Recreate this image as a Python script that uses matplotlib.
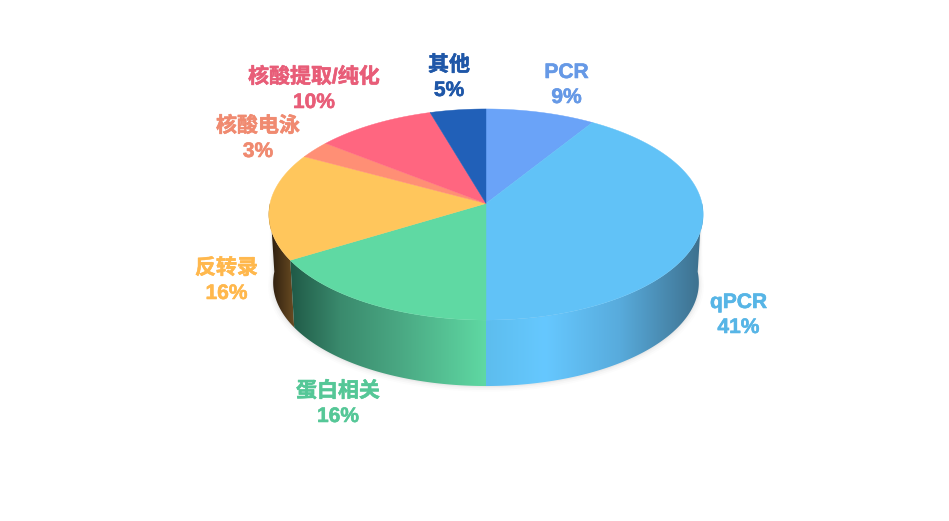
import numpy as np
import matplotlib
matplotlib.use("Agg")
import matplotlib.pyplot as plt
import matplotlib.patheffects as pe
from matplotlib.colors import LinearSegmentedColormap
from matplotlib.patches import Polygon

categories = ["PCR", "qPCR", "蛋白相关", "反转录", "核酸电泳", "核酸提取/纯化", "其他"]
values = [9.0, 41.0, 16.4, 16.4, 2.7, 9.9, 4.6]
top_colors = ["#6aa3f8", "#61c2f7", "#5fd9a3", "#ffc65c", "#ff8f75", "#ff6680", "#2160b8"]
label_colors = ["#6699e6", "#57b5e6", "#55c797", "#ffb84d", "#f08a70", "#e85d78", "#1f57a8"]
label_anchor_x = [566.5, 738.5, 338, 226.5, 258, 314, 449]
label_pct_baseline = [103, 333, 422, 299, 157, 108, 96]

wall_stops = {
    "qPCR": [(480, "#5cbcec"), (545, "#66c8ff"), (620, "#58abdc"), (703, "#3d6f8c")],
    "蛋白相关": [(285, "#1d5543"), (340, "#3a8a6d"), (400, "#4aa883"), (487, "#5fd9a3")],
    "反转录": [(266, "#20140a"), (296, "#6e4f24"), (306, "#6e4f24")],
}

CX, APEX_Y, RX, RY, PERSP = 486.0, 203.5, 216.0, 104.4, 0.1043
BOTTOM_Y, BOTTOM_SCALE = 271.8, 0.98
VIS_START, VIS_END = np.pi / 2, 3 * np.pi / 2


def project(theta, cy=APEX_Y, scale=1.0):
    u, v = np.sin(theta), np.cos(theta)
    w = 1 + PERSP * v
    return CX + scale * RX * u / w, cy - scale * RY * v / w


fig = plt.figure(figsize=(9.49, 5.21), dpi=100)
ax = fig.add_axes([0, 0, 1, 1])
ax.set_xlim(0, 949)
ax.set_ylim(521, 0)
ax.axis("off")

edges = np.cumsum([0] + values) / sum(values) * 2 * np.pi

# soft shadow under the base
front = np.linspace(VIS_START, VIS_END, 181)
for grow, alpha in [(5, 0.012), (3.5, 0.018), (2, 0.025), (1, 0.03)]:
    bx, by = project(front, BOTTOM_Y + grow * 0.6, BOTTOM_SCALE + grow / RX)
    tx, ty = project(front, APEX_Y, 1.0)
    ax.add_patch(Polygon(np.r_[np.c_[tx, ty], np.c_[bx, by][::-1]], closed=True,
                         fc="black", ec="none", alpha=alpha, zorder=1))

# outer walls (only the part facing the viewer)
for i, name in enumerate(categories):
    if name not in wall_stops:
        continue
    t = np.linspace(max(edges[i], VIS_START), min(edges[i + 1], VIS_END), 240)
    tx, ty = project(t)
    bx, by = project(t, BOTTOM_Y, BOTTOM_SCALE)
    pts = np.r_[np.c_[tx, ty], np.c_[bx, by][::-1]]
    stops = wall_stops[name]
    x0, x1 = stops[0][0], stops[-1][0]
    cmap = LinearSegmentedColormap.from_list(
        name, [((x - x0) / (x1 - x0), c) for x, c in stops])
    grad = np.linspace(0, 1, 512)[None, :]
    im = ax.imshow(grad, cmap=cmap, extent=(x0, x1, 400, 100), aspect="auto",
                   interpolation="bilinear", zorder=2 + (name == "qPCR") + 2 * (name == "蛋白相关"))
    clip = Polygon(pts, closed=True, transform=ax.transData, fc="none", ec="none")
    ax.add_patch(clip)
    im.set_clip_path(clip)
ax.set_xlim(0, 949)
ax.set_ylim(521, 0)

# top face
for i, name in enumerate(categories):
    t = np.linspace(edges[i], edges[i + 1], 240)
    tx, ty = project(t)
    pts = np.r_[[[CX, APEX_Y]], np.c_[tx, ty]]
    ax.add_patch(Polygon(pts, closed=True, fc=top_colors[i], ec=top_colors[i], lw=0.3, zorder=6))

# labels
fam = ["Liberation Sans", "Noto Sans CJK SC"]
for name, val, col, x, y in zip(categories, values, label_colors, label_anchor_x, label_pct_baseline):
    for s, yy in ((name, y - 25), (f"{val:.0f}%", y)):
        ax.text(x, yy, s, color=col, fontsize=15.1, fontweight="bold", family=fam,
                ha="center", va="baseline", zorder=7,
                path_effects=[pe.withStroke(linewidth=0.4, foreground=col)])

fig.savefig("out.png", dpi=100, facecolor="white")
